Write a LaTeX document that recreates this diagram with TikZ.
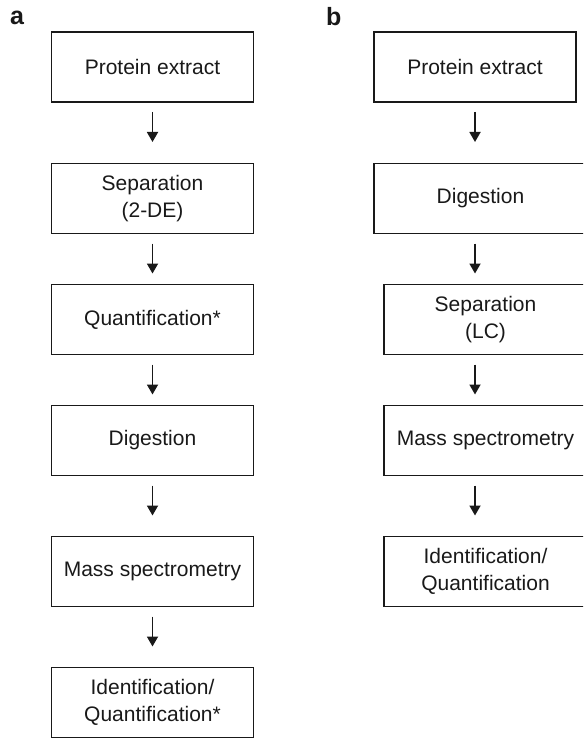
\documentclass[tikz,border=0pt]{standalone}
\usepackage{fontspec}
\setmainfont{Liberation Sans}
\usetikzlibrary{arrows.meta,calc}
\begin{document}
\begin{tikzpicture}[x=1pt,y=-1pt,
  box/.style={draw=black!90, line width=1.8pt, rectangle, minimum height=70pt,
    inner sep=0pt, outer sep=0pt, align=center, text=black!90,
    font=\fontsize{21}{27}\selectfont},
  arr/.style={line width=1.8pt, draw=black!90, -{Triangle[length=10pt,width=11pt]}},
  lab/.style={font=\fontsize{25}{27}\selectfont\bfseries, anchor=base west, inner sep=0pt, text=black!90}]
\useasboundingbox (0,0) rectangle (583,738);
\clip (0,0) rectangle (583,738);
% labels
\node[lab] (la) at (10,25) {a};
\node[lab] (lb) at (326,26) {b};
% column a
\node[box, minimum width=202pt] (a1) at (152.5,67) {Protein extract};
\node[box, minimum width=202pt] (a2) at (152.5,198.5) {Separation\\(2-DE)};
\node[box, minimum width=202pt] (a3) at (152.5,319.5) {Quantification*};
\node[box, minimum width=202pt] (a4) at (152.5,440.5) {Digestion};
\node[box, minimum width=202pt] (a5) at (152.5,571.5) {Mass spectrometry};
\node[box, minimum width=202pt] (a6) at (152.5,702.5) {Identification/\\Quantification*};
% column b
\coordinate (bx) at (475,0);
\node[box, minimum width=202pt] (b1) at (475,67) {Protein extract};
\node[box, minimum width=213pt] (b2) at (480.5,198.5) {Digestion};
\node[box, minimum width=203pt] (b3) at (485.5,319.5) {Separation\\(LC)};
\node[box, minimum width=203pt] (b4) at (485.5,440.5) {Mass spectrometry};
\node[box, minimum width=203pt] (b5) at (485.5,571.5) {Identification/\\Quantification};
% arrows column a
\foreach \n in {a1,a2,a3,a4,a5}{
  \draw[arr] ($(\n.south)+(0,10)$) -- ++(0,30);
}
% arrows column b
\foreach \n in {b1,b2,b3,b4}{
  \draw[arr] ($(\n.south -| bx)+(0,10)$) -- ++(0,30);
}
\end{tikzpicture}
\end{document}
